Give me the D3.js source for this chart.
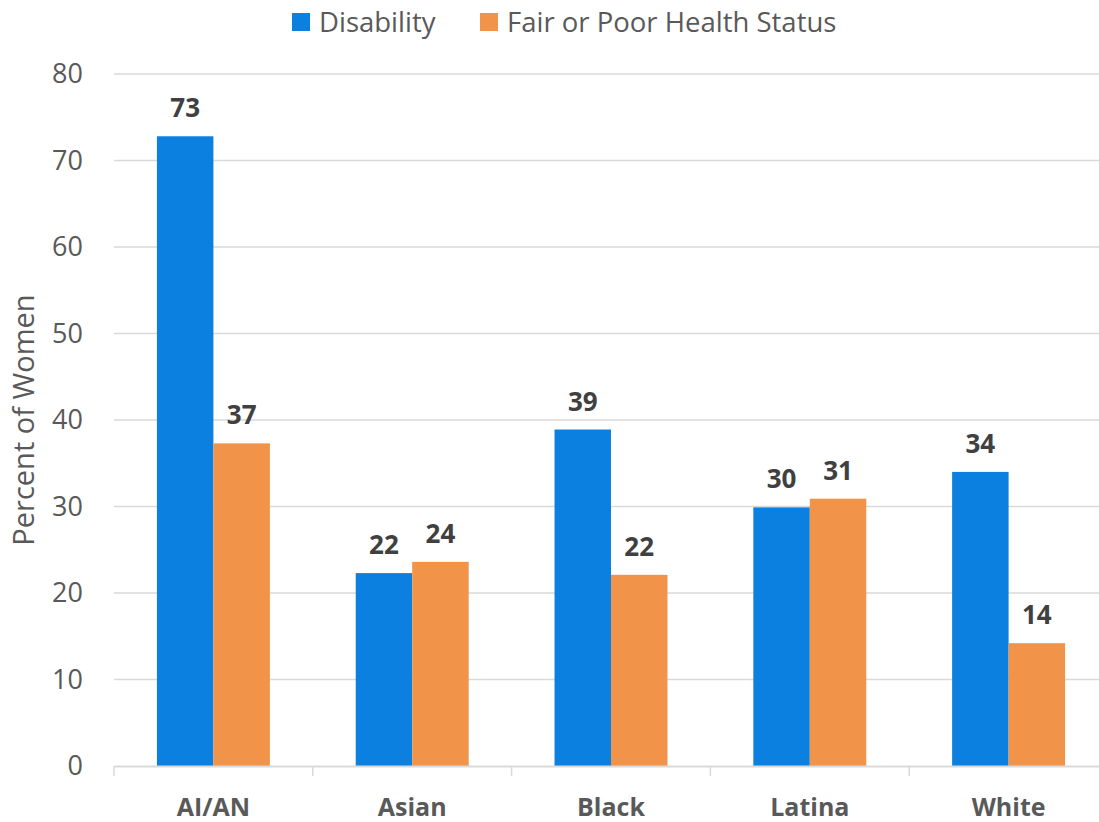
<!DOCTYPE html>
<html>
<head>
<meta charset="utf-8">
<script src="https://cdn.jsdelivr.net/npm/d3@7"></script>
<style>
  body { margin: 0; background: #fff; }
  svg { display: block; font-family: "Open Sans", "Noto Sans", sans-serif; }
</style>
</head>
<body>
<script>
// chart data
const groups = ["AI/AN", "Asian", "Black", "Latina", "White"];
const seriesNames = ["Disability", "Fair or Poor Health Status"];
const disability = [72.8, 22.3, 38.9, 29.9, 34.0];
const fairPoor = [37.3, 23.6, 22.1, 30.9, 14.2];
const disabilityLabels = ["73", "22", "39", "30", "34"];
const fairPoorLabels = ["37", "24", "22", "31", "14"];
const yTicks = [0, 10, 20, 30, 40, 50, 60, 70, 80];
const colors = ["#0B80E0", "#F2934A"];

const canvWidth = 1099, canvHeight = 822;
const margin = {top: 74, right: -9, bottom: 56, left: 114};
const width = canvWidth - margin.left - margin.right;
const height = canvHeight - margin.top - margin.bottom;

const svg = d3.select("body").append("svg")
    .attr("width", canvWidth)
    .attr("height", canvHeight);

const g = svg.append("g")
    .attr("transform", "translate(" + margin.left + "," + margin.top + ")");

const x0 = d3.scaleBand().domain(groups).range([0, width]).paddingInner(0).paddingOuter(0);
const x1 = d3.scaleBand().domain(seriesNames).range([0, x0.bandwidth()]).paddingInner(0).paddingOuter(0.76);
const y = d3.scaleLinear().domain([0, 80]).range([height, 0]);

// gridlines
g.selectAll(".grid")
    .data(yTicks.filter(d => d > 0))
    .enter().append("line")
    .attr("x1", 0).attr("x2", width)
    .attr("y1", d => y(d)).attr("y2", d => y(d))
    .attr("stroke", "#d9d9d9")
    .attr("stroke-width", 1.5);

// y axis labels
const yAxis = d3.axisLeft(y).tickValues(yTicks).tickSize(0).tickPadding(31);
g.append("g").call(yAxis)
    .call(a => a.select(".domain").remove())
    .selectAll("text")
    .attr("font-size", "27px")
    .attr("font-family", "'Open Sans', sans-serif")
    .attr("fill", "#595959");

const rows = groups.map((grp, i) => ({grp: grp, vals: [
    {s: seriesNames[0], v: disability[i], lab: disabilityLabels[i]},
    {s: seriesNames[1], v: fairPoor[i], lab: fairPoorLabels[i]}
]}));

const grpSel = g.selectAll(".grp")
    .data(rows)
    .enter().append("g")
    .attr("transform", d => "translate(" + x0(d.grp) + ",0)");

grpSel.selectAll("rect")
    .data(d => d.vals)
    .enter().append("rect")
    .attr("x", d => x1(d.s))
    .attr("y", d => y(d.v))
    .attr("width", x1.bandwidth())
    .attr("height", d => y(0) - y(d.v))
    .attr("fill", (d, i) => colors[i]);

grpSel.selectAll(".lab")
    .data(d => d.vals)
    .enter().append("text")
    .attr("x", d => x1(d.s) + x1.bandwidth() / 2)
    .attr("y", d => y(d.v) - 19)
    .attr("text-anchor", "middle")
    .attr("font-size", "26px")
    .attr("font-weight", "bold")
    .attr("fill", "#404040")
    .text(d => d.lab);

// x axis
const xAxis = d3.axisBottom(x0).tickSize(0).tickPadding(32);
const xg = g.append("g")
    .attr("transform", "translate(0," + height + ")")
    .call(xAxis);
xg.select(".domain").attr("stroke", "#d9d9d9").attr("stroke-width", 2);
xg.selectAll("text")
    .attr("font-size", "25px")
    .attr("font-weight", "bold")
    .attr("font-family", "'Open Sans', sans-serif")
    .attr("fill", "#595959");
// category separators
xg.selectAll(".sep")
    .data(d3.range(groups.length + 1))
    .enter().append("line")
    .attr("x1", i => i * x0.bandwidth()).attr("x2", i => i * x0.bandwidth())
    .attr("y1", 0).attr("y2", 10)
    .attr("stroke", "#d9d9d9")
    .attr("stroke-width", 1.5);

// y axis title
svg.append("text")
    .attr("transform", "translate(34," + (margin.top + height / 2) + ") rotate(-90)")
    .attr("text-anchor", "middle")
    .attr("font-size", "29px")
    .attr("fill", "#595959")
    .text("Percent of Women");

// legend
const legendX = [292, 480];
const legend = svg.selectAll(".legend")
    .data(seriesNames)
    .enter().append("g")
    .attr("transform", (d, i) => "translate(" + legendX[i] + ",13)");
legend.append("rect")
    .attr("width", 18).attr("height", 18)
    .attr("fill", (d, i) => colors[i]);
legend.append("text")
    .attr("x", 27).attr("y", 19)
    .attr("font-size", "27.5px")
    .attr("fill", "#595959")
    .text(d => d);
</script>
</body>
</html>
